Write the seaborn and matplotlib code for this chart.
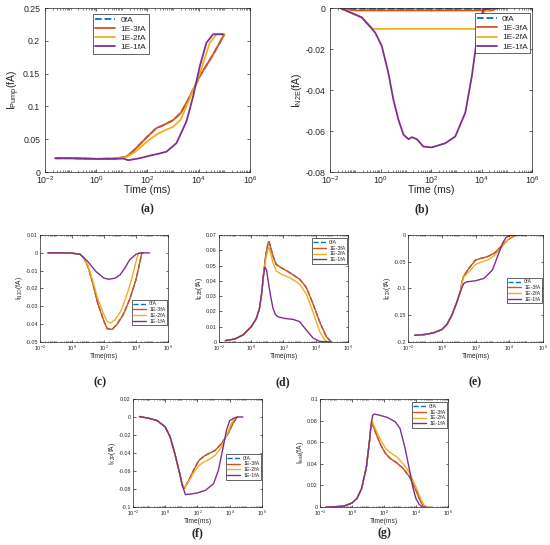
import numpy as np
import matplotlib
matplotlib.use('Agg')
import matplotlib.pyplot as plt
import seaborn as sns
from matplotlib.ticker import FixedLocator, LogLocator, FuncFormatter, NullFormatter

# series names and MATLAB default colours
names = ['0fA', '1E-3fA', '1E-2fA', '1E-1fA']
colors = ['#0072BD', '#D95319', '#EDB120', '#7E2F8E']

# time is stored as log10(t / ms)

# (a) I_Pump
a_red_logt = [-1.6, -1, 0, 0.7, 1.18, 1.5, 2.0, 2.35, 2.6, 3.0, 3.3, 3.65, 4.04, 4.56, 5.0]
a_red_y = [0.021, 0.021, 0.020, 0.0205, 0.0234, 0.034, 0.054, 0.067, 0.071, 0.079, 0.090, 0.115, 0.146, 0.179, 0.210]
a_yel_logt = [-1.6, -1, 0, 0.7, 1.18, 1.5, 2.0, 2.35, 2.6, 3.0, 3.3, 3.65, 4.04, 4.43, 4.69, 5.0]
a_yel_y = [0.021, 0.021, 0.020, 0.0205, 0.0228, 0.030, 0.047, 0.057, 0.062, 0.069, 0.080, 0.112, 0.150, 0.197, 0.210, 0.210]
a_pur_logt = [-1.6, -1, 0, 0.7, 1.05, 1.25, 1.7, 2.1, 2.45, 2.74, 3.13, 3.52, 3.78, 4.04, 4.3, 4.56, 4.95]
a_pur_y = [0.021, 0.021, 0.020, 0.020, 0.0205, 0.018, 0.021, 0.025, 0.028, 0.031, 0.044, 0.077, 0.115, 0.161, 0.197, 0.210, 0.210]

# (b) I_N2E
b_blu_logt = [-1.6, -1.3, -1.1, 4.2, 4.4, 4.6]
b_blu_y = [0, -0.0003, -0.0004, -0.0004, -0.0001, 0]
b_red_logt = [-1.6, -1.3, -1.15, -0.9, 4.4, 4.55, 4.7]
b_red_y = [0, -0.0004, -0.001, -0.0012, -0.0012, -0.0005, 0]
b_yel_logt = [-1.6, -0.74, -0.3, 3.87, 3.95, 4.1, 4.3, 4.45]
b_yel_y = [0, -0.0046, -0.0102, -0.0102, -0.0054, -0.002, -0.0005, 0]
b_pur_logt = [-1.6, -0.74, -0.21, 0.05, 0.31, 0.51, 0.71, 0.91, 1.11, 1.24, 1.44, 1.7, 2.03, 2.56,
              2.96, 3.36, 3.62, 3.82, 3.95, 4.08, 4.5, 4.95]
b_pur_y = [0, -0.0046, -0.012, -0.0185, -0.0316, -0.0447, -0.0545, -0.0618, -0.064, -0.063, -0.064,
           -0.0676, -0.068, -0.066, -0.0627, -0.051, -0.033, -0.015, -0.0054, -0.0008, 0, 0.0003]

# (c) I_N2O
c_red_logt = [-1.5, -0.5, 0, 0.5, 0.75, 1, 1.3, 1.6, 2, 2.2, 2.5, 2.8, 3.2, 3.6, 4.0, 4.2, 4.37, 4.45]
c_red_y = [0, 0, -0.0002, -0.0008, -0.003, -0.0077, -0.017, -0.028, -0.0384, -0.0425, -0.043, -0.0403,
           -0.0347, -0.0263, -0.0151, -0.007, 0, 0]
c_yel_logt = [-1.5, -0.5, 0, 0.5, 0.75, 1, 1.3, 1.6, 2, 2.2, 2.4, 2.7, 3.1, 3.5, 3.8, 4.0, 4.15, 4.3]
c_yel_y = [0, 0, -0.0002, -0.0008, -0.003, -0.0071, -0.0157, -0.0254, -0.0347, -0.0384, -0.0394, -0.0375,
           -0.0319, -0.0217, -0.0124, -0.005, 0, 0]
c_pur_logt = [-1.5, -0.5, 0, 0.5, 1, 1.5, 2, 2.3, 2.7, 3, 3.3, 3.6, 4, 4.3, 4.85]
c_pur_y = [0, 0, -0.0002, -0.0008, -0.005, -0.0105, -0.0142, -0.0148, -0.0142, -0.0124, -0.0086, -0.004,
           -0.0008, 0, 0]

# (d) I_E2B
d_red_logt = [-1.6, -1, -0.5, 0, 0.3, 0.5, 0.65, 0.75, 0.9, 1.05, 1.1, 1.2, 1.35, 1.55, 1.86, 2.38, 3.0,
              3.41, 3.83, 4.24, 4.65, 4.96]
d_red_y = [0.0009, 0.002, 0.0047, 0.010, 0.015, 0.0215, 0.032, 0.043, 0.057, 0.065, 0.0657, 0.062, 0.0561,
           0.0507, 0.0486, 0.0454, 0.0411, 0.0358, 0.025, 0.0133, 0.0036, 0]
d_yel_logt = [-1.6, -1, -0.5, 0, 0.3, 0.5, 0.65, 0.75, 0.9, 1.05, 1.1, 1.2, 1.35, 1.55, 1.86, 2.38, 3.0,
              3.41, 3.83, 4.24, 4.55, 4.75]
d_yel_y = [0.0009, 0.002, 0.0047, 0.010, 0.015, 0.0215, 0.032, 0.042, 0.054, 0.061, 0.0619, 0.058, 0.0518,
           0.0465, 0.0443, 0.0422, 0.0379, 0.0315, 0.0197, 0.0069, 0.0015, 0]
d_pur_logt = [-1.6, -1, -0.5, 0, 0.3, 0.5, 0.65, 0.75, 0.85, 0.95, 1.05, 1.2, 1.35, 1.5, 1.66, 2.07, 2.59,
              3.0, 3.41, 3.83, 4.24, 4.9]
d_pur_y = [0.0009, 0.002, 0.0047, 0.010, 0.015, 0.0215, 0.032, 0.043, 0.049, 0.047, 0.040, 0.030, 0.022,
           0.018, 0.0165, 0.0154, 0.0148, 0.0133, 0.0079, 0.0026, 0.0004, 0]

# (e) I_E2X
e_red_logt = [-1.6, -1, -0.5, 0, 0.3, 0.6, 0.9, 1.1, 1.2, 1.3, 1.6, 2, 2.3, 2.7, 3.1, 3.5, 3.9, 4.2, 4.5]
e_red_y = [-0.1875, -0.186, -0.183, -0.177, -0.1675, -0.15, -0.125, -0.106, -0.088, -0.077, -0.0625,
           -0.047, -0.0438, -0.0406, -0.0344, -0.0219, -0.0094, -0.003, 0]
e_yel_logt = [-1.6, -1, -0.5, 0, 0.3, 0.6, 0.9, 1.1, 1.2, 1.3, 1.6, 2, 2.3, 2.7, 3.1, 3.5, 3.9, 4.15, 4.3]
e_yel_y = [-0.1875, -0.186, -0.183, -0.177, -0.1675, -0.15, -0.125, -0.106, -0.089, -0.079, -0.069,
           -0.055, -0.051, -0.047, -0.039, -0.025, -0.0094, -0.002, 0]
e_pur_logt = [-1.6, -1, -0.5, 0, 0.3, 0.6, 0.9, 1.1, 1.3, 1.5, 2, 2.5, 3, 3.3, 3.6, 3.8, 4, 4.2, 4.86]
e_pur_y = [-0.1875, -0.186, -0.183, -0.177, -0.1675, -0.15, -0.125, -0.106, -0.0906, -0.0875, -0.0856,
           -0.081, -0.0656, -0.0406, -0.0156, -0.005, -0.001, 0, 0]

# (f) I_X2P
f_red_logt = [-1.6, -1, -0.5, 0, 0.3, 0.6, 0.9, 1.05, 1.2, 1.5, 1.8, 2.1, 2.4, 2.7, 3.1, 3.5, 3.9, 4.2,
              4.4, 4.5]
f_red_y = [0.0005, -0.0015, -0.004, -0.011, -0.022, -0.041, -0.063, -0.076, -0.079, -0.0688, -0.0576,
           -0.048, -0.0436, -0.0406, -0.037, -0.0294, -0.0183, -0.0071, -0.0016, 0]
f_yel_logt = [-1.6, -1, -0.5, 0, 0.3, 0.6, 0.9, 1.05, 1.2, 1.5, 1.8, 2.1, 2.4, 2.7, 3.1, 3.5, 3.9, 4.1,
              4.3, 4.4]
f_yel_y = [0.0005, -0.0015, -0.004, -0.011, -0.022, -0.041, -0.063, -0.075, -0.078, -0.0703, -0.061,
           -0.0537, -0.05, -0.0474, -0.0425, -0.033, -0.0165, -0.0071, -0.0016, 0]
f_pur_logt = [-1.6, -1, -0.5, 0, 0.3, 0.6, 0.9, 1.1, 1.25, 1.5, 2, 2.5, 3, 3.3, 3.6, 3.8, 4, 4.3, 4.5, 4.82]
f_pur_y = [0.0005, -0.0015, -0.004, -0.011, -0.022, -0.041, -0.063, -0.078, -0.0862, -0.0858, -0.0844,
           -0.0814, -0.074, -0.059, -0.033, -0.0146, -0.004, -0.001, 0, 0]

# (g) I_leak
g_red_logt = [-1.6, -1, -0.5, 0, 0.3, 0.6, 0.9, 1.1, 1.18, 1.25, 1.5, 1.8, 2.1, 2.4, 2.8, 3.2, 3.6, 4.0,
              4.3, 4.5, 4.7]
g_red_y = [0, 0.0003, 0.0009, 0.0037, 0.0077, 0.017, 0.037, 0.062, 0.074, 0.078, 0.068, 0.0573, 0.0495,
           0.0449, 0.0409, 0.0356, 0.0279, 0.0155, 0.0046, 0.0006, 0]
g_yel_logt = [-1.6, -1, -0.5, 0, 0.3, 0.6, 0.9, 1.1, 1.18, 1.25, 1.5, 1.8, 2.1, 2.4, 2.8, 3.2, 3.6, 4.0,
              4.3, 4.5, 4.7, 4.86]
g_yel_y = [0, 0.0003, 0.0009, 0.0037, 0.0077, 0.017, 0.037, 0.062, 0.075, 0.0796, 0.0712, 0.062, 0.0542,
           0.0502, 0.0464, 0.0402, 0.0316, 0.0186, 0.0077, 0.0015, 0, 0]
g_pur_logt = [-1.6, -1, -0.5, 0, 0.3, 0.6, 0.9, 1.1, 1.2, 1.3, 1.4, 1.7, 2.2, 2.7, 3.0, 3.3, 3.6, 3.8,
              4.0, 4.2, 4.4, 4.65]
g_pur_y = [0, 0.0003, 0.0009, 0.0037, 0.0077, 0.017, 0.037, 0.062, 0.0774, 0.0851, 0.086, 0.0851, 0.083,
           0.079, 0.0728, 0.0557, 0.034, 0.0186, 0.0077, 0.0025, 0, 0]

sns.set_theme(style='ticks')
plt.rcParams['font.family'] = ['Liberation Sans', 'DejaVu Sans']
plt.rcParams['mathtext.fontset'] = 'custom'
plt.rcParams['mathtext.rm'] = 'Liberation Sans'
plt.rcParams['mathtext.default'] = 'regular'
plt.rcParams['axes.unicode_minus'] = False
plt.rcParams['xtick.direction'] = 'in'
plt.rcParams['ytick.direction'] = 'in'
plt.rcParams['xtick.top'] = True
plt.rcParams['ytick.right'] = True
plt.rcParams['axes.edgecolor'] = '#262626'
plt.rcParams['axes.linewidth'] = 0.5

fig = plt.figure(figsize=(5.5, 5.45), dpi=100)

panels = [
    # rect, series (logt, y) per name, yticks, ylabel, xlabel, big, legend loc, anchor, label, label pos
    ([0.0818, 0.6844, 0.3727, 0.3009],
     [(a_red_logt, a_red_y), (a_red_logt, a_red_y), (a_yel_logt, a_yel_y), (a_pur_logt, a_pur_y)],
     [0, 0.05, 0.1, 0.15, 0.2, 0.25], r'I$_{\rm Pump}$(fA)', 'Time (ms)', True,
     'upper left', (0.225, 0.975), '(a)', (147, 209)),
    ([0.6, 0.6844, 0.3673, 0.3009],
     [(b_blu_logt, b_blu_y), (b_red_logt, b_red_y), (b_yel_logt, b_yel_y), (b_pur_logt, b_pur_y)],
     [-0.08, -0.06, -0.04, -0.02, 0], r'I$_{\rm N2E}$(fA)', 'Time (ms)', True,
     'upper right', (1.0, 0.98), '(b)', (422, 209)),
    ([0.0727, 0.3725, 0.2327, 0.1963],
     [(c_red_logt, c_red_y), (c_red_logt, c_red_y), (c_yel_logt, c_yel_y), (c_pur_logt, c_pur_y)],
     [-0.05, -0.04, -0.03, -0.02, -0.01, 0, 0.01], r'I$_{\rm N2O}$(fA)', 'Time(ms)', False,
     'lower right', (1.0, 0.145), '(c)', (100, 382)),
    ([0.3982, 0.3725, 0.2345, 0.1963],
     [(d_red_logt, d_red_y), (d_red_logt, d_red_y), (d_yel_logt, d_yel_y), (d_pur_logt, d_pur_y)],
     [0, 0.01, 0.02, 0.03, 0.04, 0.05, 0.06, 0.07], r'I$_{\rm E2B}$(fA)', 'Time(ms)', False,
     'upper right', (1.0, 0.98), '(d)', (283, 382)),
    ([0.7418, 0.3725, 0.2455, 0.1963],
     [(e_red_logt, e_red_y), (e_red_logt, e_red_y), (e_yel_logt, e_yel_y), (e_pur_logt, e_pur_y)],
     [-0.2, -0.15, -0.1, -0.05, 0], r'I$_{\rm E2X}$(fA)', 'Time(ms)', False,
     'upper right', (1.0, 0.61), '(e)', (475, 382)),
    ([0.2418, 0.0697, 0.2345, 0.1982],
     [(f_red_logt, f_red_y), (f_red_logt, f_red_y), (f_yel_logt, f_yel_y), (f_pur_logt, f_pur_y)],
     [-0.1, -0.08, -0.06, -0.04, -0.02, 0, 0.02], r'I$_{\rm X2P}$(fA)', 'Time(ms)', False,
     'upper right', (1.0, 0.5), '(f)', (197, 533)),
    ([0.5818, 0.0697, 0.2327, 0.1982],
     [(g_red_logt, g_red_y), (g_red_logt, g_red_y), (g_yel_logt, g_yel_y), (g_pur_logt, g_pur_y)],
     [0, 0.02, 0.04, 0.06, 0.08, 0.1], r'I$_{\rm leak}$(fA)', 'Time(ms)', False,
     'upper right', (1.0, 0.98), '(g)', (384, 533)),
]

for rect, series, yticks, ylab, xlab, big, loc, anchor, tag, tagpos in panels:
    ax = fig.add_axes(rect)
    lw = 1.3 if big else 1.0
    fs_tick = 6.3 if big else 3.9
    fs_lab = 7.5 if big else 4.8
    fs_leg = 6.0 if big else 3.8
    for i, (logt, vals) in enumerate(series):
        sns.lineplot(x=np.power(10.0, np.array(logt)), y=vals, ax=ax, color=colors[i],
                     linestyle='--' if i == 0 else '-', linewidth=lw, label=names[i],
                     sort=False, estimator=None, errorbar=None)
    ax.set_xscale('log')
    ax.set_xlim(1e-2, 1e6)
    ax.set_ylim(yticks[0], yticks[-1])
    ax.xaxis.set_major_locator(FixedLocator([1e-2, 1e0, 1e2, 1e4, 1e6]))
    ax.xaxis.set_minor_locator(LogLocator(base=10, subs=np.arange(1, 10), numticks=100))
    ax.xaxis.set_minor_formatter(NullFormatter())
    ax.yaxis.set_major_locator(FixedLocator(yticks))
    ax.yaxis.set_major_formatter(FuncFormatter(lambda v, p: '%g' % round(v, 6)))
    ax.tick_params(which='major', length=2.5 if big else 1.8, width=0.5, labelsize=fs_tick,
                   colors='#262626', pad=1.5)
    ax.tick_params(axis='y', which='major', pad=3.5 if big else 1.5)
    ax.tick_params(which='minor', length=1.3 if big else 0.9, width=0.4)
    ax.set_xlabel(xlab, fontsize=fs_lab, labelpad=-0.3 if big else -0.5, color='#262626')
    ax.set_ylabel(ylab, fontsize=fs_lab, labelpad=1 if big else 0.5, color='#262626')
    leg = ax.legend(loc=loc, bbox_to_anchor=anchor, fontsize=fs_leg, frameon=True, fancybox=False,
                    edgecolor='#262626', framealpha=1, handlelength=2.4, borderpad=0.3,
                    labelspacing=0.15, handletextpad=0.6, borderaxespad=0.2)
    leg.get_frame().set_linewidth(0.5)
    fig.text(tagpos[0] / 550, 1 - tagpos[1] / 545, tag, ha='center', va='center',
             fontsize=8.5, fontweight='bold', family=['Liberation Serif', 'DejaVu Serif'])

fig.savefig('out.png', dpi=100)
